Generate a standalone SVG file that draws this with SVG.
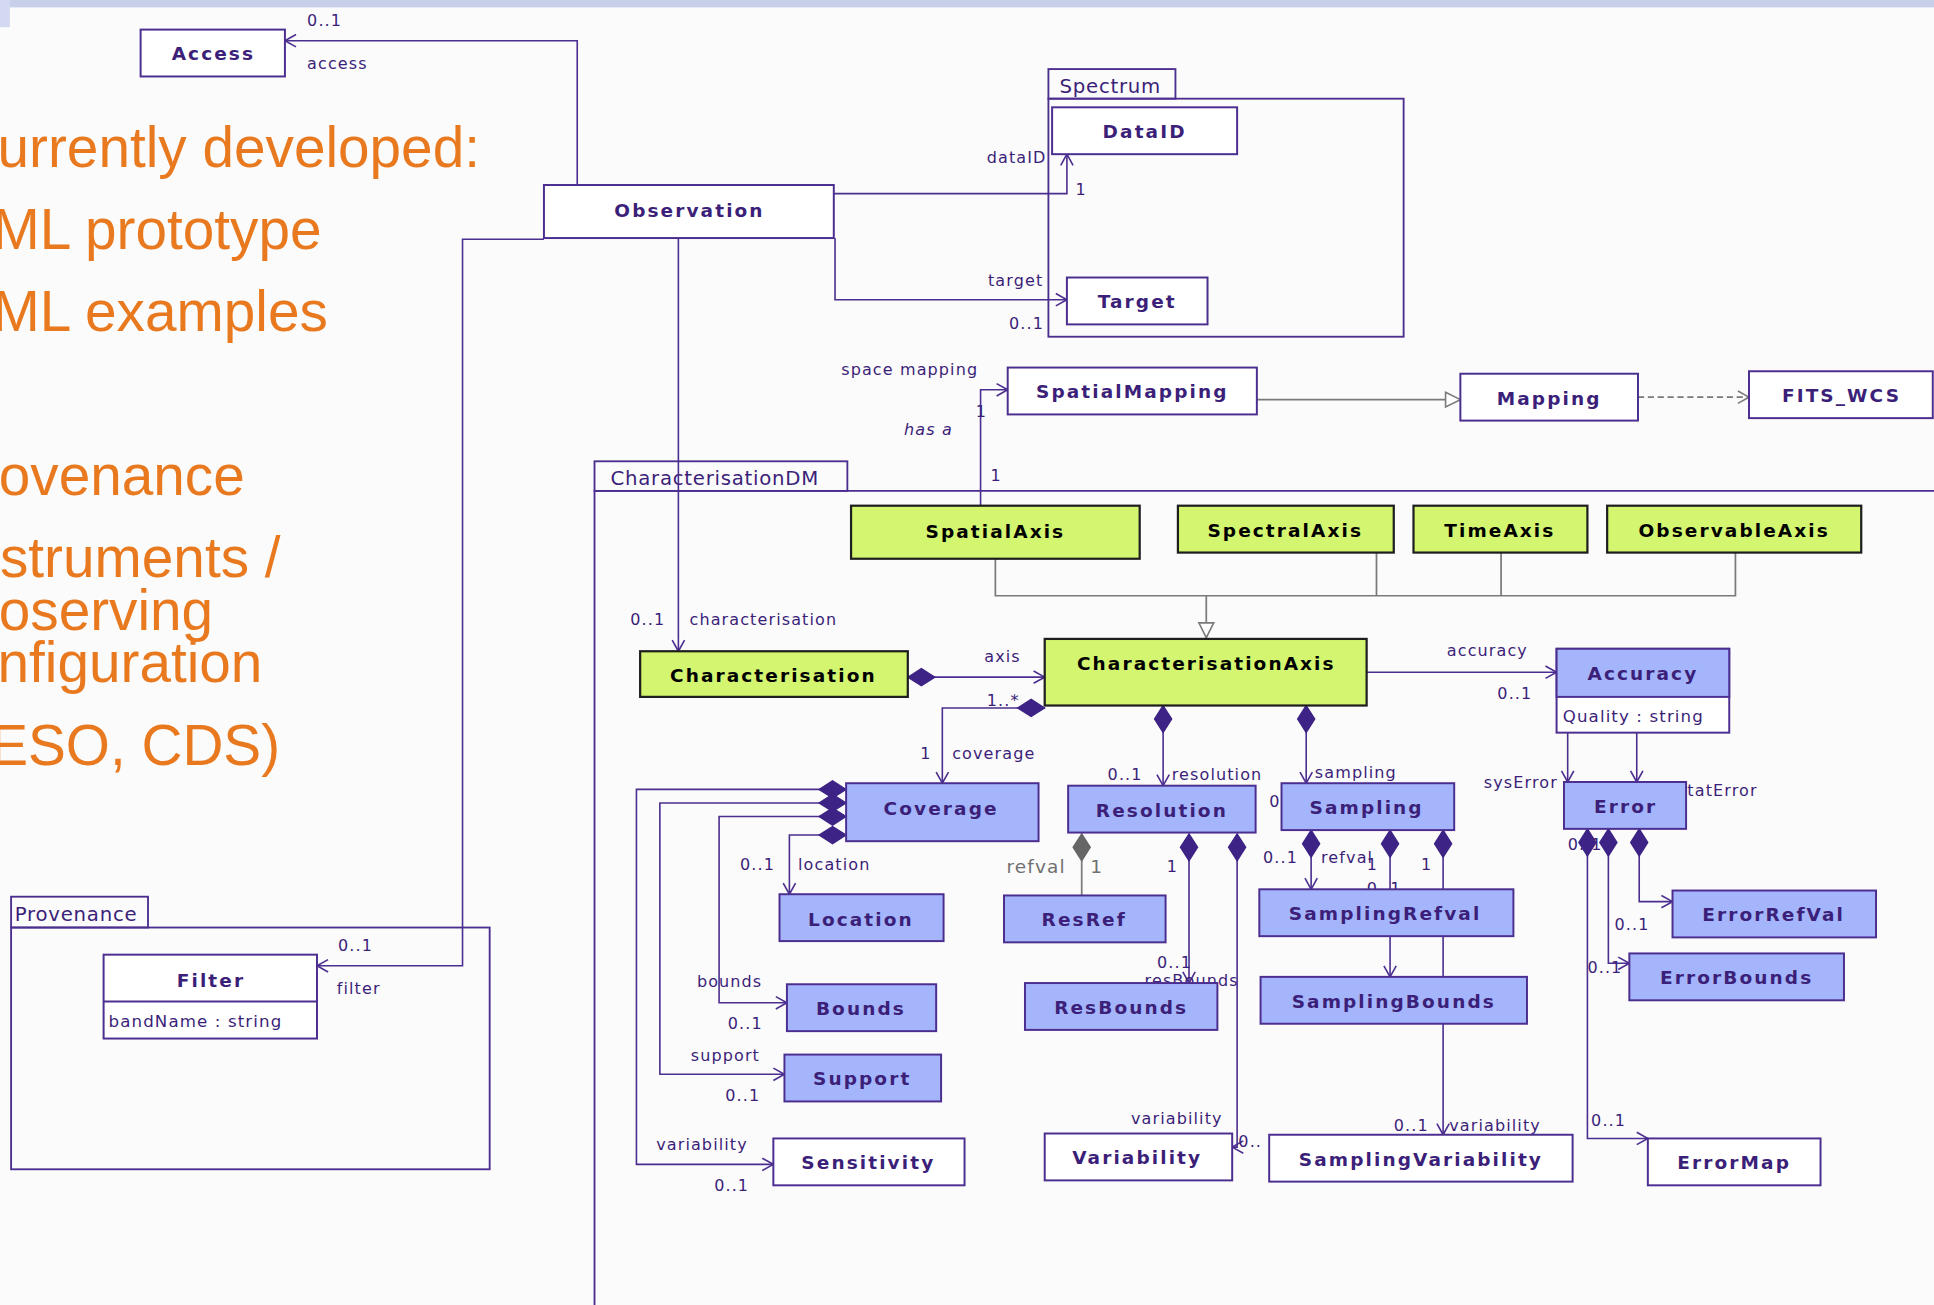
<svg xmlns="http://www.w3.org/2000/svg" width="1934" height="1305" viewBox="0 0 1934 1305">
<style>
.bx{stroke:#4b2e8f;stroke-width:1.6}
.w{fill:#ffffff}
.b{fill:#a5b5fb}
.g{fill:#d3f56f;stroke:#1e1e1e;stroke-width:1.8}
.pkg{fill:none;stroke:#4b2e8f;stroke-width:1.5}
.cn{font-family:"DejaVu Sans",Verdana,sans-serif;font-weight:bold;font-size:15px;letter-spacing:1.7px;fill:#3b1f79;text-anchor:middle}
.cg{fill:#000000}
.at{font-family:"DejaVu Sans",Verdana,sans-serif;font-size:13.5px;letter-spacing:0.9px;fill:#3b1f79}
.lb{font-family:"DejaVu Sans",Verdana,sans-serif;font-size:13px;letter-spacing:0.9px;fill:#3b1f79}
.gy{fill:#707070;font-size:15px}
.pk{font-family:"DejaVu Sans",Verdana,sans-serif;font-size:16px;letter-spacing:0.6px;fill:#3b1f79}
.or{font-family:"Liberation Sans",Arial,sans-serif;font-size:46px;fill:#e9791f}
.ln{fill:none;stroke:#4b2e8f;stroke-width:1.3}
.gl{fill:none;stroke:#7a7a7a;stroke-width:1.4}
</style>
<defs>
<marker id="arr" markerUnits="userSpaceOnUse" markerWidth="12" markerHeight="12" refX="9" refY="5" orient="auto" overflow="visible">
<path d="M0,0 L9,5 L0,10" fill="none" stroke="#4b2e8f" stroke-width="1.3"/>
</marker>
<marker id="arrg" markerUnits="userSpaceOnUse" markerWidth="12" markerHeight="12" refX="9" refY="5" orient="auto" overflow="visible">
<path d="M0,0 L9,5 L0,10" fill="none" stroke="#7a7a7a" stroke-width="1.3"/>
</marker>
<marker id="dia" markerUnits="userSpaceOnUse" markerWidth="24" markerHeight="16" refX="0" refY="7" orient="auto" overflow="visible">
<path d="M0,7 L11,0 L22,7 L11,14 Z" fill="#3d2385" stroke="#3d2385" stroke-width="1"/>
</marker>
<marker id="diag" markerUnits="userSpaceOnUse" markerWidth="24" markerHeight="16" refX="0" refY="7" orient="auto" overflow="visible">
<path d="M0,7 L11,0 L22,7 L11,14 Z" fill="#666666" stroke="#666666" stroke-width="1"/>
</marker>
<marker id="tri" markerUnits="userSpaceOnUse" markerWidth="14" markerHeight="14" refX="12" refY="6" orient="auto" overflow="visible">
<path d="M0,0 L12,6 L0,12 Z" fill="#ffffff" stroke="#7a7a7a" stroke-width="1.3"/>
</marker>
</defs>
<rect width="1934" height="1305" fill="#fbfbfb"/>
<g transform="scale(1.23342)">
<g id="banner">
<rect x="0" y="0" width="1568" height="6" fill="#c8cfea"/>
<rect x="0" y="0" width="8" height="22" fill="#d3d9f0"/>
</g>
<g id="slide-text">
<text class="or" x="-2" y="135">urrently developed:</text>
<text class="or" x="-6" y="202">ML prototype</text>
<text class="or" x="-6" y="268">ML examples</text>
<text class="or" x="-1" y="401">ovenance</text>
<text class="or" x="0" y="468">struments /</text>
<text class="or" x="-1" y="511">oserving</text>
<text class="or" x="-2" y="553">nfiguration</text>
<text class="or" x="-8" y="620">ESO, CDS)</text>
</g>
<g id="packages">
<g id="pkg-spectrum">
<rect class="pkg" x="850" y="56" width="103" height="24"/>
<rect class="pkg" x="850" y="80" width="288" height="193"/>
<text class="pk" x="859" y="75">Spectrum</text>
</g>
<g id="pkg-characterisationdm">
<rect class="pkg" x="482" y="374" width="205" height="24"/>
<path class="pkg" d="M482,1060 V398 H1570"/>
<text class="pk" x="495" y="393">CharacterisationDM</text>
</g>
<g id="pkg-provenance">
<rect class="pkg" x="9" y="727" width="111" height="25"/>
<rect class="pkg" x="9" y="752" width="388" height="196"/>
<text class="pk" x="12" y="747">Provenance</text>
</g>
</g>
<g id="connectors">
<path class="ln" d="M468,150 V33 H231" marker-end="url(#arr)"/>
<text class="lb" x="249" y="21">0..1</text>
<text class="lb" x="249" y="56">access</text>
<path class="ln" d="M676,157 H865 V125" marker-end="url(#arr)"/>
<text class="lb" x="800" y="132">dataID</text>
<text class="lb" x="872" y="158">1</text>
<path class="ln" d="M677,193 V243 H865" marker-end="url(#arr)"/>
<text class="lb" x="801" y="232">target</text>
<text class="lb" x="818" y="267">0..1</text>
<path class="ln" d="M550,193 V528" marker-end="url(#arr)"/>
<text class="lb" x="511" y="507">0..1</text>
<text class="lb" x="559" y="507">characterisation</text>
<path class="ln" d="M441,194 H375 V783 H257" marker-end="url(#arr)"/>
<text class="lb" x="274" y="771">0..1</text>
<text class="lb" x="273" y="806">filter</text>
<path class="ln" d="M795,410 V316 H817" marker-end="url(#arr)"/>
<text class="lb" x="682" y="304">space mapping</text>
<text class="lb" x="733" y="353" font-style="italic">has a</text>
<text class="lb" x="803" y="390">1</text>
<text class="lb" x="791" y="338" font-size="9">1</text>
<path class="gl" d="M1019,324 H1184" marker-end="url(#tri)"/>
<path class="gl" d="M1328,322 H1418" stroke-dasharray="5,3" marker-end="url(#arrg)"/>
<path class="gl" d="M807,453 V483 H1407 V448 M1116,448 V483 M1217,448 V483"/>
<path class="gl" d="M978,483 V517" marker-end="url(#tri)"/>
<path class="ln" d="M736,549 H847" marker-start="url(#dia)" marker-end="url(#arr)"/>
<text class="lb" x="798" y="537">axis</text>
<path class="ln" d="M847,574 H764 V635" marker-start="url(#dia)" marker-end="url(#arr)"/>
<text class="lb" x="800" y="572">1..*</text>
<text class="lb" x="746" y="615">1</text>
<text class="lb" x="772" y="615">coverage</text>
<path class="ln" d="M943,572 V637" marker-start="url(#dia)" marker-end="url(#arr)"/>
<text class="lb" x="898" y="632">0..1</text>
<text class="lb" x="950" y="632">resolution</text>
<path class="ln" d="M1059,572 V635" marker-start="url(#dia)" marker-end="url(#arr)"/>
<text class="lb" x="1066" y="631">sampling</text>
<text class="lb" x="1029" y="654">0</text>
<path class="ln" d="M1108,545 H1262" marker-end="url(#arr)"/>
<text class="lb" x="1173" y="532">accuracy</text>
<text class="lb" x="1214" y="567">0..1</text>
<path class="ln" d="M1271,594 V634" marker-end="url(#arr)"/>
<path class="ln" d="M1327,594 V634" marker-end="url(#arr)"/>
<text class="lb" x="1203" y="639">sysError</text>
<text class="lb" x="1368" y="645">tatError</text>
<path class="ln" d="M686,640 H516 V944 H627" marker-start="url(#dia)" marker-end="url(#arr)"/>
<text class="lb" x="532" y="932">variability</text>
<text class="lb" x="579" y="966">0..1</text>
<path class="ln" d="M686,651 H535 V871 H636" marker-start="url(#dia)" marker-end="url(#arr)"/>
<text class="lb" x="560" y="860">support</text>
<text class="lb" x="588" y="893">0..1</text>
<path class="ln" d="M686,662 H583 V813 H638" marker-start="url(#dia)" marker-end="url(#arr)"/>
<text class="lb" x="565" y="800">bounds</text>
<text class="lb" x="590" y="834">0..1</text>
<path class="ln" d="M686,677 H640 V725" marker-start="url(#dia)" marker-end="url(#arr)"/>
<text class="lb" x="600" y="705">0..1</text>
<text class="lb" x="647" y="705">location</text>
<path class="gl" d="M877,676 V726" marker-start="url(#diag)"/>
<text class="lb gy" x="816" y="708">refval</text>
<text class="lb gy" x="884" y="708">1</text>
<path class="ln" d="M964,676 V797" marker-start="url(#dia)" marker-end="url(#arr)"/>
<text class="lb" x="946" y="707">1</text>
<text class="lb" x="938" y="785">0..1</text>
<text class="lb" x="928" y="799">resBounds</text>
<path class="ln" d="M1003,676 V930 H999" marker-start="url(#dia)" marker-end="url(#arr)"/>
<text class="lb" x="917" y="911">variability</text>
<text class="lb" x="1004" y="930">0..</text>
<path class="ln" d="M1063,673 V721" marker-start="url(#dia)" marker-end="url(#arr)"/>
<text class="lb" x="1024" y="700">0..1</text>
<text class="lb" x="1071" y="700">refval</text>
<text class="lb" x="1108" y="705">1</text>
<path class="ln" d="M1127,673 V721" marker-start="url(#dia)"/>
<text class="lb" x="1108" y="725">0..1</text>
<path class="ln" d="M1170,673 V920" marker-start="url(#dia)" marker-end="url(#arr)"/>
<text class="lb" x="1152" y="705">1</text>
<text class="lb" x="1130" y="917">0..1</text>
<text class="lb" x="1175" y="917">variability</text>
<path class="ln" d="M1127,759 V792" marker-end="url(#arr)"/>
<text class="lb" x="1271" y="689">0..1</text>
<path class="ln" d="M1287,672 V923 H1336" marker-start="url(#dia)" marker-end="url(#arr)"/>
<text class="lb" x="1290" y="913">0..1</text>
<path class="ln" d="M1304,672 V781 H1321" marker-start="url(#dia)" marker-end="url(#arr)"/>
<text class="lb" x="1287" y="789">0..1</text>
<path class="ln" d="M1329,672 V731 H1356" marker-start="url(#dia)" marker-end="url(#arr)"/>
<text class="lb" x="1309" y="754">0..1</text>
</g>
<g id="node-access"><rect class="bx w" x="114" y="24" width="117" height="38"/><text class="cn" x="173" y="49">Access</text></g>
<g id="node-observation"><rect class="bx w" x="441" y="150" width="235" height="43"/><text class="cn" x="559" y="176">Observation</text></g>
<g id="node-dataid"><rect class="bx w" x="853" y="87" width="150" height="38"/><text class="cn" x="928" y="112">DataID</text></g>
<g id="node-target"><rect class="bx w" x="865" y="225" width="114" height="38"/><text class="cn" x="922" y="250">Target</text></g>
<g id="node-spatialmapping"><rect class="bx w" x="817" y="298" width="202" height="38"/><text class="cn" x="918" y="323">SpatialMapping</text></g>
<g id="node-mapping"><rect class="bx w" x="1184" y="303" width="144" height="38"/><text class="cn" x="1256" y="328">Mapping</text></g>
<g id="node-fitswcs"><rect class="bx w" x="1418" y="301" width="149" height="38"/><text class="cn" x="1493" y="326">FITS_WCS</text></g>
<g id="node-spatialaxis"><rect class="g" x="690" y="410" width="234" height="43"/><text class="cn cg" x="807" y="436">SpatialAxis</text></g>
<g id="node-spectralaxis"><rect class="g" x="955" y="410" width="175" height="38"/><text class="cn cg" x="1042" y="435">SpectralAxis</text></g>
<g id="node-timeaxis"><rect class="g" x="1146" y="410" width="141" height="38"/><text class="cn cg" x="1216" y="435">TimeAxis</text></g>
<g id="node-observableaxis"><rect class="g" x="1303" y="410" width="206" height="38"/><text class="cn cg" x="1406" y="435">ObservableAxis</text></g>
<g id="node-characterisation"><rect class="g" x="519" y="528" width="217" height="37"/><text class="cn cg" x="627" y="553">Characterisation</text></g>
<g id="node-characterisationaxis"><rect class="g" x="847" y="518" width="261" height="54"/><text class="cn cg" x="978" y="543">CharacterisationAxis</text></g>
<g id="node-accuracy"><rect class="bx w" x="1262" y="526" width="140" height="68"/><rect class="bx b" x="1262" y="526" width="140" height="39"/><text class="cn" x="1332" y="551">Accuracy</text><text class="at" x="1267" y="585">Quality : string</text></g>
<g id="node-coverage"><rect class="bx b" x="686" y="635" width="156" height="47"/><text class="cn" x="763" y="661">Coverage</text></g>
<g id="node-resolution"><rect class="bx b" x="866" y="637" width="152" height="38"/><text class="cn" x="942" y="662">Resolution</text></g>
<g id="node-sampling"><rect class="bx b" x="1039" y="635" width="140" height="38"/><text class="cn" x="1108" y="660">Sampling</text></g>
<g id="node-error"><rect class="bx b" x="1268" y="634" width="99" height="38"/><text class="cn" x="1318" y="659">Error</text></g>
<g id="node-location"><rect class="bx b" x="632" y="725" width="133" height="38"/><text class="cn" x="698" y="751">Location</text></g>
<g id="node-resref"><rect class="bx b" x="814" y="726" width="131" height="38"/><text class="cn" x="879" y="751">ResRef</text></g>
<g id="node-samplingrefval"><rect class="bx b" x="1021" y="721" width="206" height="38"/><text class="cn" x="1123" y="746">SamplingRefval</text></g>
<g id="node-errorrefval"><rect class="bx b" x="1356" y="722" width="165" height="38"/><text class="cn" x="1438" y="747">ErrorRefVal</text></g>
<g id="node-bounds"><rect class="bx b" x="638" y="798" width="121" height="38"/><text class="cn" x="698" y="823">Bounds</text></g>
<g id="node-resbounds"><rect class="bx b" x="831" y="797" width="156" height="38"/><text class="cn" x="909" y="822">ResBounds</text></g>
<g id="node-samplingbounds"><rect class="bx b" x="1022" y="792" width="216" height="38"/><text class="cn" x="1130" y="817">SamplingBounds</text></g>
<g id="node-errorbounds"><rect class="bx b" x="1321" y="773" width="174" height="38"/><text class="cn" x="1408" y="798">ErrorBounds</text></g>
<g id="node-support"><rect class="bx b" x="636" y="855" width="127" height="38"/><text class="cn" x="699" y="880">Support</text></g>
<g id="node-sensitivity"><rect class="bx w" x="627" y="923" width="155" height="38"/><text class="cn" x="704" y="948">Sensitivity</text></g>
<g id="node-variability"><rect class="bx w" x="847" y="919" width="152" height="38"/><text class="cn" x="922" y="944">Variability</text></g>
<g id="node-samplingvariability"><rect class="bx w" x="1029" y="920" width="246" height="38"/><text class="cn" x="1152" y="945">SamplingVariability</text></g>
<g id="node-errormap"><rect class="bx w" x="1336" y="923" width="140" height="38"/><text class="cn" x="1406" y="948">ErrorMap</text></g>
<g id="node-filter"><rect class="bx w" x="84" y="774" width="173" height="68"/><line class="bx" x1="84" y1="812" x2="257" y2="812"/><text class="cn" x="171" y="800">Filter</text><text class="at" x="88" y="833">bandName : string</text></g>
</g>
</svg>
